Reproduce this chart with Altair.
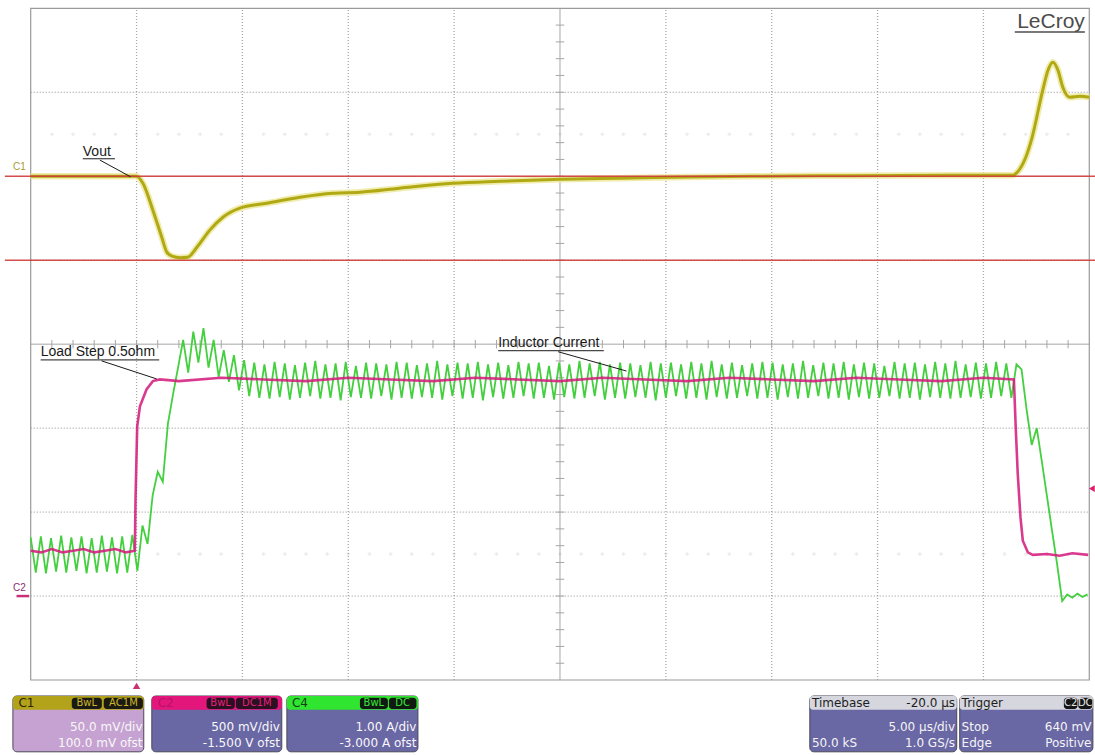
import altair as alt
import pandas as pd

# ---------------- instrument settings ----------------
T_PER_DIV = 5.0            # µs/div
T_START = -5.0             # µs at the left edge of the graticule (trigger 1 div in)
N_HDIV, N_VDIV = 10, 8
C1_MV_DIV, C1_OFS = 50.0, 100.0      # mV/div, mV offset
C2_V_DIV, C2_OFS = 0.5, -1.5         # V/div, V offset
C4_A_DIV, C4_OFS = 1.0, -3.0         # A/div, A offset
TRIG_LEVEL_V = 0.64
CURSORS_MV = [0.0, -50.0]

# visible extent of the screen in µs / divisions (graticule plus margins)
VIEW_T = [-6.45, 45.27]
VIEW_DIV = [-4.893, 4.099]

# ---------------- C1: Vout (mV, AC coupled) ----------------
C1_T = [-5.0, -2.5, 0.0, 0.30, 0.77, 1.19, 1.43, 1.67, 2.05, 2.42, 2.85, 3.46,
        4.08, 4.88, 6.16, 7.72, 9.28, 10.55, 12.44, 14.95, 17.17, 20.0, 22.8,
        25.3, 29.0, 33.7, 38.4, 41.4, 41.6, 42.0, 42.3, 42.8, 43.05, 43.28,
        43.52, 43.75, 44.08, 44.55, 45.0]
C1_MV = [0.0, 0.0, 0.0, -4.2, -20.2, -36.3, -45.2, -47.6, -48.5, -48.2, -42.3,
         -32.1, -24.4, -19.0, -16.1, -12.5, -10.1, -9.5, -7.1, -4.2, -3.0, -1.8,
         -1.2, -0.6, 0.0, 0.3, 0.6, 0.6, 2.4, 11.3, 23.2, 51.2, 63.1, 67.9,
         63.1, 53.0, 47.0, 47.6, 47.0]

# ---------------- C2: load step (V) ----------------
C2_T = [-5.0, -4.5, -4.0, -3.5, -3.0, -2.5, -2.0, -1.5, -1.0, -0.5,
        -0.08, -0.05, 0.03, 0.16, 0.47, 0.77, 1.10,
        2.0, 4.0, 6.0, 8.0, 10.0, 12.0, 14.0, 16.0, 18.0, 20.0,
        22.0, 24.0, 26.0, 28.0, 30.0, 32.0, 34.0, 36.0, 38.0, 40.0,
        41.44, 41.53, 41.62, 41.75, 41.86, 42.10, 42.33,
        43.0, 43.6, 44.2, 44.95]
C2_V = [0.27, 0.26, 0.28, 0.26, 0.27, 0.28, 0.26, 0.27, 0.28, 0.26,
        0.27, 0.57, 1.01, 1.13, 1.23, 1.28, 1.29,
        1.28, 1.30, 1.29, 1.28, 1.30, 1.29, 1.28, 1.30, 1.29, 1.28,
        1.30, 1.29, 1.28, 1.30, 1.29, 1.28, 1.30, 1.29, 1.28, 1.30,
        1.29, 0.99, 0.73, 0.47, 0.33, 0.26, 0.245,
        0.25, 0.24, 0.255, 0.245]

# ---------------- C4: inductor current (A), one sample per ripple half-period ----------------
C4_T0, C4_DT = -5.0, 0.24
C4_A = [
    # light load
    0.70, 0.28, 0.71, 0.27, 0.69, 0.29, 0.72, 0.28, 0.70, 0.30, 0.71,
    0.27, 0.69, 0.28, 0.72, 0.29, 0.70, 0.27, 0.71, 0.28, 0.73,
    # load step ramp
    0.30, 0.84, 0.62, 1.20, 1.48, 1.36, 2.05, 2.40, 2.72,
    # overshoot
    3.05, 2.66, 3.15, 2.78, 3.19, 2.72, 3.05, 2.61, 2.93, 2.55, 2.87, 2.45, 2.81, 2.38,
    # heavy load
    2.78, 2.36, 2.76, 2.35, 2.79, 2.37, 2.77, 2.34, 2.75, 2.36,
    2.78, 2.38, 2.80, 2.35, 2.76, 2.36, 2.77, 2.33, 2.79, 2.37,
    2.74, 2.36, 2.78, 2.35, 2.77, 2.38, 2.76, 2.34, 2.79, 2.36,
    2.78, 2.35, 2.75, 2.37, 2.77, 2.36, 2.80, 2.34, 2.76, 2.38,
    2.78, 2.35, 2.77, 2.36, 2.79, 2.33, 2.76, 2.37, 2.78, 2.35,
    2.75, 2.36, 2.79, 2.38, 2.77, 2.35, 2.78, 2.36, 2.74, 2.34,
    2.78, 2.37, 2.76, 2.35, 2.80, 2.36, 2.77, 2.38, 2.79, 2.34,
    2.76, 2.36, 2.78, 2.35, 2.77, 2.37, 2.75, 2.36, 2.79, 2.33,
    2.77, 2.36, 2.78, 2.38, 2.76, 2.35, 2.79, 2.36, 2.77, 2.34,
    2.80, 2.37, 2.76, 2.35, 2.78, 2.36, 2.75, 2.38, 2.77, 2.35,
    2.79, 2.36, 2.78, 2.34, 2.76, 2.37, 2.77, 2.35, 2.80, 2.36,
    2.75, 2.38, 2.78, 2.35, 2.77, 2.36, 2.79, 2.34, 2.76, 2.37,
    2.78, 2.35, 2.77, 2.36, 2.74, 2.38, 2.79, 2.35, 2.77, 2.36,
    2.78, 2.34, 2.76, 2.37, 2.79, 2.36, 2.77, 2.35, 2.80, 2.36,
    2.76, 2.37, 2.78, 2.35, 2.77, 2.36, 2.79, 2.38, 2.77, 2.36,
    # load release
    2.76, 2.70, 2.22, 1.80, 2.00, 1.60, 1.19, 0.78, 0.38, -0.06,
    0.02, -0.02, 0.03, -0.01, 0.02,
]

# ---------------- screen text ----------------
ANNOTATIONS = ["Vout", "Load Step 0.5ohm", "Inductor Current"]
PANEL_C1 = ["C1", "BwL", "AC1M", "50.0 mV/div", "100.0 mV ofst"]
PANEL_C2 = ["C2", "BwL", "DC1M", "500 mV/div", "-1.500 V ofst"]
PANEL_C4 = ["C4", "BwL", "DC", "1.00 A/div", "-3.000 A ofst"]
PANEL_TB = ["Timebase", "-20.0 µs", "5.00 µs/div", "50.0 kS", "1.0 GS/s"]
PANEL_TRIG = ["Trigger", "C2", "DC", "Stop", "640 mV", "Edge", "Positive"]

# ---------------- helpers ----------------
xs = alt.Scale(domain=VIEW_T, nice=False, zero=False)
ys = alt.Scale(domain=VIEW_DIV, nice=False, zero=False)
UI_FONT = "DejaVu Sans"


def X(f="t"):
    return alt.X(f"{f}:Q", scale=xs, axis=None)


def Y(f="d"):
    return alt.Y(f"{f}:Q", scale=ys, axis=None)


def rules(rows, **mark):
    df = pd.DataFrame(rows, columns=["t", "d", "t2", "d2"])
    return alt.Chart(df).mark_rule(**mark).encode(
        x=X(), y=Y(), x2=alt.X2("t2:Q"), y2=alt.Y2("d2:Q"))


def rects(rows, **mark):
    df = pd.DataFrame(rows, columns=["t", "d", "t2", "d2", "c"])
    return alt.Chart(df).mark_rect(**mark).encode(
        x=X(), y=Y(), x2=alt.X2("t2:Q"), y2=alt.Y2("d2:Q"),
        color=alt.Color("c:N", scale=None))


def texts(rows, align, font="Liberation Sans", weight="normal"):
    df = pd.DataFrame(rows, columns=["s", "t", "d", "c", "fs"])
    return alt.Chart(df).mark_text(align=align, baseline="alphabetic",
                                   font=font, fontWeight=weight).encode(
        x=X(), y=Y(), text="s:N", color=alt.Color("c:N", scale=None),
        size=alt.Size("fs:Q", scale=None))


T_END = T_START + N_HDIV * T_PER_DIV
HALF_V = N_VDIV / 2

# ---------------- graticule ----------------
frame = alt.Chart(pd.DataFrame([{"t": T_START, "t2": T_END, "d": -HALF_V, "d2": HALF_V}])).mark_rect(
    fill=None, filled=False, stroke="#9a9a9a", strokeWidth=1.2).encode(
    x=X(), y=Y(), x2=alt.X2("t2:Q"), y2=alt.Y2("d2:Q"))

t_center = T_START + N_HDIV / 2 * T_PER_DIV
v_lines = [(T_START + k * T_PER_DIV, -HALF_V, T_START + k * T_PER_DIV, HALF_V)
           for k in range(1, N_HDIV) if k != N_HDIV // 2]
h_lines = [(T_START, k, T_END, k) for k in range(-3, 4) if k != 0]
grid_v = rules(v_lines, color="#a8a8a8", strokeDash=[1, 2], strokeWidth=1.3)
grid_h = rules(h_lines, color="#8c8c8c", strokeDash=[1, 2], strokeWidth=1)
axes = rules([(T_START, 0, T_END, 0), (t_center, -HALF_V, t_center, HALF_V)],
             color="#a6a6a6", strokeWidth=1)
ticks_h = rules([(T_START + k, -0.05, T_START + k, 0.05) for k in range(1, 50)],
                color="#a6a6a6", strokeWidth=1)
ticks_v = rules([(t_center - 0.2, k / 5, t_center + 0.2, k / 5) for k in range(-19, 20)],
                color="#a6a6a6", strokeWidth=1)
ghost = alt.Chart(pd.DataFrame(
    [{"t": T_START + k, "d": dd} for k in range(1, 50) for dd in (2.5, -2.5)]
)).mark_point(shape="cross", filled=True, size=14, color="#ececec", opacity=1).encode(x=X(), y=Y())

# ---------------- traces ----------------
c1 = pd.DataFrame({"t": C1_T, "d": [(v + C1_OFS) / C1_MV_DIV for v in C1_MV]})
c2 = pd.DataFrame({"t": C2_T, "d": [(v + C2_OFS) / C2_V_DIV for v in C2_V]})
c4 = pd.DataFrame({"t": [C4_T0 + i * C4_DT for i in range(len(C4_A))],
                   "d": [(a + C4_OFS) / C4_A_DIV for a in C4_A]})

c4_line = alt.Chart(c4).mark_line(color="#44cf3f", strokeWidth=1.8).encode(x=X(), y=Y())
c2_line = alt.Chart(c2).mark_line(color="#d4177a", strokeWidth=2.6, opacity=0.85).encode(x=X(), y=Y())
c1_halo = alt.Chart(c1).mark_line(color="#ebe79a", strokeWidth=6.5, interpolate="monotone",
                                  opacity=0.8).encode(x=X(), y=Y())
c1_line = alt.Chart(c1).mark_line(color="#b1a913", strokeWidth=3,
                                  interpolate="monotone").encode(x=X(), y=Y())

cursors = rules([(-6.22, (m + C1_OFS) / C1_MV_DIV, VIEW_T[1], (m + C1_OFS) / C1_MV_DIV)
                 for m in CURSORS_MV], color="#cf3b3b", strokeWidth=1.5, opacity=0.9)

# ---------------- markers and tags ----------------
c2_ground = rules([(-5.67, C2_OFS / C2_V_DIV, -5.07, C2_OFS / C2_V_DIV)],
                  color="#c8307a", strokeWidth=2.5)
trig_level = alt.Chart(pd.DataFrame([{"t": 45.12, "d": (TRIG_LEVEL_V + C2_OFS) / C2_V_DIV}])).mark_point(
    shape="triangle-left", filled=True, size=45, color="#d8206f", opacity=1).encode(x=X(), y=Y())
trig_time = alt.Chart(pd.DataFrame([{"t": 0.0, "d": -4.07}])).mark_point(
    shape="triangle-up", filled=True, size=55, color="#c8306e", opacity=1).encode(x=X(), y=Y())
tags = texts([("C1", -5.84, 2.08, "#a99d2d", 10), ("C2", -5.84, -2.94, "#8a2c6c", 10)], "left")

# ---------------- annotations ----------------
ann_text = texts([(ANNOTATIONS[0], -2.54, 2.24, "#1a1a1a", 14),
                  (ANNOTATIONS[1], -4.53, -0.14, "#1a1a1a", 14),
                  (ANNOTATIONS[2], 17.08, -0.028, "#1a1a1a", 14)], "left")
ann_lines = rules([(-2.54, 2.208, -1.02, 2.208), (-1.73, 2.192, -0.28, 1.993),
                   (-4.53, -0.1875, 1.07, -0.1875), (-1.65, -0.199, 0.95, -0.414),
                   (17.08, -0.078, 22.07, -0.078), (19.91, -0.090, 23.14, -0.320)],
                  color="#1a1a1a", strokeWidth=1)
logo = texts([("LeCroy", 44.79, 3.764, "#4c4c4c", 21)], "right")
logo_line = rules([(41.48, 3.718, 44.79, 3.718)], color="#4c4c4c", strokeWidth=1.4)

# ---------------- info panels ----------------
P_TOP, P_HEAD, P_BOT = -4.19, -4.355, -4.855
B_TOP, B_BOT = -4.212, -4.344
BODY = "#6a67a5"
panel_bodies = rects([(-5.84, P_TOP, 0.34, P_BOT, "#c6a2d2"),
                      (0.72, P_TOP, 6.86, P_BOT, BODY),
                      (7.10, P_TOP, 13.29, P_BOT, BODY),
                      (31.80, P_TOP, 38.74, P_BOT, BODY),
                      (38.88, P_TOP, 45.17, P_BOT, BODY)],
                     cornerRadius=4, stroke="#4a4858", strokeWidth=1)
panel_heads = rects([(-5.84, P_TOP, 0.34, P_HEAD, "#b3a31b"),
                     (0.72, P_TOP, 6.86, P_HEAD, "#e3167c"),
                     (7.10, P_TOP, 13.29, P_HEAD, "#2fe52f"),
                     (31.80, P_TOP, 38.74, P_HEAD, "#d6d6de"),
                     (38.88, P_TOP, 45.17, P_HEAD, "#d6d6de")],
                    cornerRadius=3)
badges = rects([(-3.06, B_TOP, -1.64, B_BOT, "#1b1a12"), (-1.55, B_TOP, 0.30, B_BOT, "#1b1a12"),
                (3.31, B_TOP, 4.64, B_BOT, "#2a1020"), (4.69, B_TOP, 6.67, B_BOT, "#2a1020"),
                (10.55, B_TOP, 11.87, B_BOT, "#101a10"), (11.92, B_TOP, 13.22, B_BOT, "#101a10"),
                (43.80, B_TOP, 44.44, B_BOT, "#151515"), (44.48, B_TOP, 45.14, B_BOT, "#151515")],
               cornerRadius=3)

HEAD_Y, L1_Y, L2_Y = -4.318, -4.605, -4.796
BADGE_Y = -4.312
panel_left = texts([(PANEL_C1[0], -5.58, HEAD_Y, "#2e2700", 12),
                    (PANEL_C2[0], 1.00, HEAD_Y, "#b8106a", 12),
                    (PANEL_C4[0], 7.34, HEAD_Y, "#163d16", 12),
                    (PANEL_TB[0], 31.90, HEAD_Y, "#1e1e1e", 12),
                    (PANEL_TB[3], 31.90, L2_Y, "#f4f4f4", 12),
                    (PANEL_TRIG[0], 38.97, HEAD_Y, "#1e1e1e", 12),
                    (PANEL_TRIG[3], 38.97, L1_Y, "#f4f4f4", 12),
                    (PANEL_TRIG[5], 38.97, L2_Y, "#f4f4f4", 12)], "left", font=UI_FONT)
panel_right = texts([(PANEL_C1[3], 0.28, L1_Y, "#f8f8f8", 12),
                     (PANEL_C1[4], 0.28, L2_Y, "#f8f8f8", 12),
                     (PANEL_C2[3], 6.77, L1_Y, "#f8f8f8", 12),
                     (PANEL_C2[4], 6.77, L2_Y, "#f8f8f8", 12),
                     (PANEL_C4[3], 13.22, L1_Y, "#f8f8f8", 12),
                     (PANEL_C4[4], 13.22, L2_Y, "#f8f8f8", 12),
                     (PANEL_TB[1], 38.66, HEAD_Y, "#1e1e1e", 12),
                     (PANEL_TB[2], 38.66, L1_Y, "#f4f4f4", 12),
                     (PANEL_TB[4], 38.66, L2_Y, "#f4f4f4", 12),
                     (PANEL_TRIG[4], 45.10, L1_Y, "#f4f4f4", 12),
                     (PANEL_TRIG[6], 45.10, L2_Y, "#f4f4f4", 12)], "right", font=UI_FONT)
panel_badges = texts([(PANEL_C1[1], -2.35, BADGE_Y, "#cbb52a", 10),
                      (PANEL_C1[2], -0.62, BADGE_Y, "#cbb52a", 10),
                      (PANEL_C2[1], 3.97, BADGE_Y, "#e6207e", 10),
                      (PANEL_C2[2], 5.68, BADGE_Y, "#e6207e", 10),
                      (PANEL_C4[1], 11.21, BADGE_Y, "#38e838", 10),
                      (PANEL_C4[2], 12.57, BADGE_Y, "#38e838", 10),
                      (PANEL_TRIG[1], 44.12, BADGE_Y, "#e8e8e8", 10),
                      (PANEL_TRIG[2], 44.81, BADGE_Y, "#e8e8e8", 10)], "center", font=UI_FONT)

chart = alt.layer(
    ghost, grid_v, grid_h, axes, ticks_h, ticks_v, frame,
    c4_line, c2_line, c1_halo, c1_line, cursors,
    c2_ground, trig_level, trig_time, tags,
    ann_lines, ann_text, logo, logo_line,
    panel_bodies, panel_heads, badges, panel_left, panel_right, panel_badges,
).properties(
    width=1095, height=755, padding=0,
    autosize=alt.AutoSizeParams(type="none"), background="white",
).configure_view(stroke=None)

chart.save("out.html", embed_options={"renderer": "svg", "actions": False})
